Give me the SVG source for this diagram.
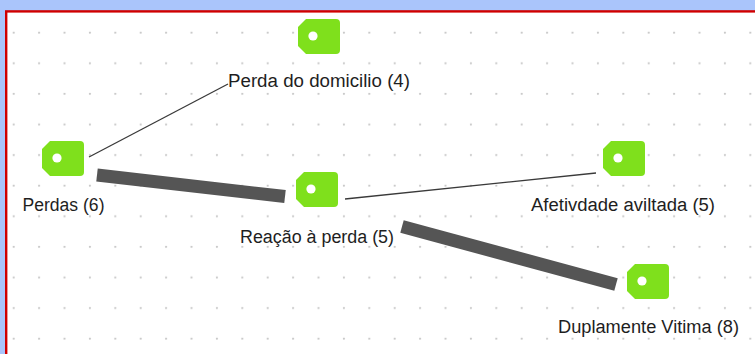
<svg xmlns="http://www.w3.org/2000/svg" width="755" height="354" viewBox="0 0 755 354">
  <defs>
    <style>
      .lbl { font-family: "Liberation Sans", Arial, sans-serif; font-size: 18px; fill: #1e1e1e; }
      .thin { stroke: #3a3a3a; stroke-width: 1.3; fill: none; }
      .thick { stroke: #555555; stroke-width: 13; fill: none; stroke-linecap: butt; }
      .tag { fill: #7fe01c; }
      .hole { fill: #ffffff; }
    </style>
    <pattern id="grid" patternUnits="userSpaceOnUse" x="2" y="21" width="25.4" height="30.6">
      <circle cx="11.7" cy="11.7" r="1.1" fill="#c6c6c6"/>
    </pattern>
    <symbol id="tagshape" viewBox="0 0 42 35" width="42" height="35">
      <path class="tag" d="M8,0 H38 Q42,0 42,4 V31 Q42,35 38,35 H8 L0,27 V8 Z"/>
      <circle class="hole" cx="15" cy="17" r="4.6"/>
    </symbol>
  </defs>

  <rect x="0" y="0" width="755" height="354" fill="#aac5fb"/>
  <rect x="6.2" y="11.4" width="760" height="360" fill="#ffffff" stroke="#d00000" stroke-width="2.4"/>
  <rect x="7.5" y="12.7" width="748" height="342" fill="url(#grid)"/>

  <g id="connectors">
    <line class="thin" x1="89" y1="157" x2="228" y2="84"/>
    <line class="thick" x1="97" y1="175" x2="285" y2="196.5"/>
    <line class="thin" x1="345" y1="199" x2="596" y2="173"/>
    <line class="thick" x1="402" y1="226.5" x2="616" y2="284.5"/>
  </g>

  <g id="node-perda-domicilio">
    <use href="#tagshape" x="298" y="19"/>
    <text class="lbl" x="228" y="87" textLength="182" lengthAdjust="spacingAndGlyphs">Perda do domicilio (4)</text>
  </g>
  <g id="node-perdas">
    <use href="#tagshape" x="42" y="141"/>
    <text class="lbl" x="22.5" y="211" textLength="82" lengthAdjust="spacingAndGlyphs">Perdas (6)</text>
  </g>
  <g id="node-reacao">
    <use href="#tagshape" x="296" y="172"/>
    <text class="lbl" x="240" y="243" textLength="154" lengthAdjust="spacingAndGlyphs">Reação à perda (5)</text>
  </g>
  <g id="node-afetividade">
    <use href="#tagshape" x="603" y="141"/>
    <text class="lbl" x="531" y="211" textLength="184" lengthAdjust="spacingAndGlyphs">Afetivdade aviltada (5)</text>
  </g>
  <g id="node-duplamente">
    <use href="#tagshape" x="627" y="264"/>
    <text class="lbl" x="558" y="333" textLength="181" lengthAdjust="spacingAndGlyphs">Duplamente Vitima (8)</text>
  </g>
</svg>
